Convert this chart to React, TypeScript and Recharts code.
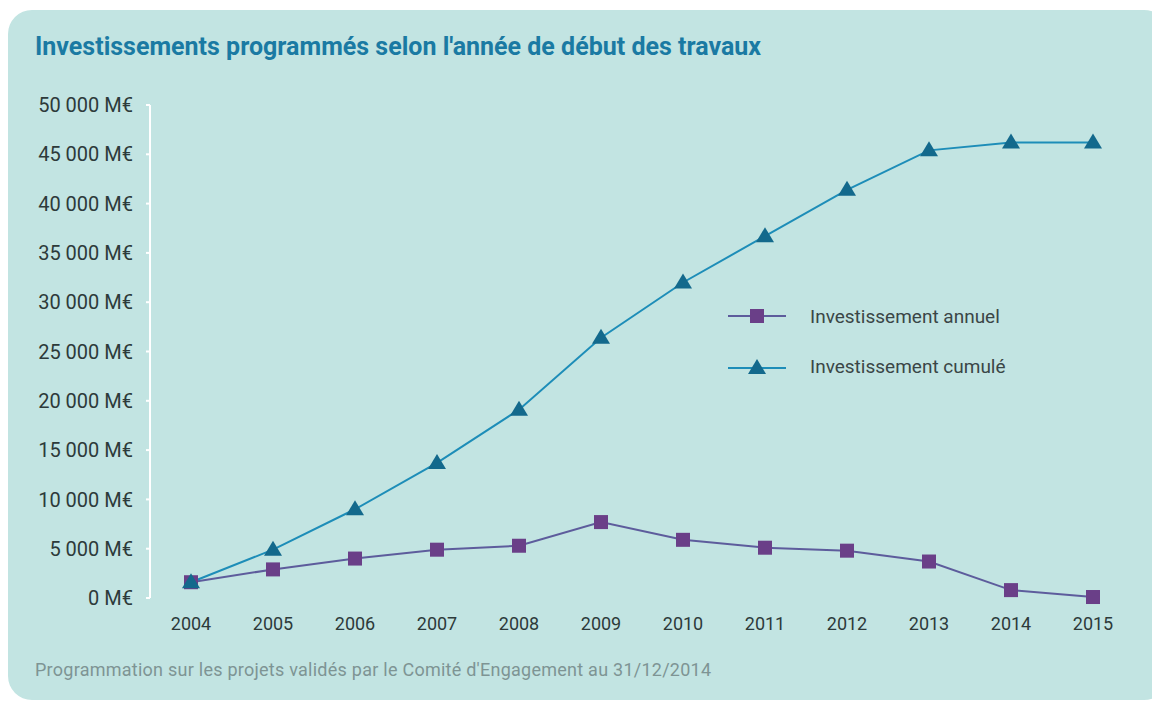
import { LineChart, Line, XAxis, YAxis } from "recharts";

// Années de début des travaux
const years = [2004, 2005, 2006, 2007, 2008, 2009, 2010, 2011, 2012, 2013, 2014, 2015];
// Montants (M€)
const annuel = [1600, 2900, 4000, 4900, 5300, 7700, 5900, 5100, 4800, 3700, 800, 100];
const cumule = [1600, 4900, 9000, 13700, 19100, 26400, 32000, 36700, 41400, 45400, 46200, 46200];
const yTicks = [0, 5000, 10000, 15000, 20000, 25000, 30000, 35000, 40000, 45000, 50000];
const bandEdges = [2003.5, 2004.5, 2005.5, 2006.5, 2007.5, 2008.5, 2009.5, 2010.5, 2011.5, 2012.5, 2013.5, 2014.5, 2015.5];

const data = years.map((y, i) => ({ year: y, annuel: annuel[i], cumule: cumule[i] }));

const FONT = "Roboto, 'Open Sans', sans-serif";
const PURPLE = "#6a3f88";
const PURPLE_LINE = "#5d5c9c";
const BLUE = "#13698c";
const BLUE_LINE = "#1d8db8";

const fmt = (v: number) => (v === 0 ? "0 M€" : `${Math.round(v / 1000)} 000 M€`);

const SquareDot = (props: any) => {
  const { cx, cy } = props;
  if (cx == null || cy == null) return <g />;
  return <rect x={cx - 7} y={cy - 7} width={14} height={14} fill={PURPLE} />;
};

const TriangleDot = (props: any) => {
  const { cx, cy } = props;
  if (cx == null || cy == null) return <g />;
  return <path d={`M${cx},${cy - 9} L${cx + 9},${cy + 6} L${cx - 9},${cy + 6} Z`} fill={BLUE} />;
};

const EmptyTick = () => <g />;

export default function App() {
  return (
    <div style={{ position: "absolute", left: 0, top: 0, width: 1152, height: 701, background: "#fff", overflow: "hidden", fontFamily: FONT }}>
      <div style={{ position: "absolute", left: 8, top: 10, width: 1160, height: 690, background: "#c2e4e2", borderRadius: 24 }} />
      <div style={{ position: "absolute", left: 35, top: 32, fontSize: 25, lineHeight: "30px", fontWeight: 700, color: "#1a7aa3", whiteSpace: "nowrap" }}>
        Investissements programmés selon l'année de début des travaux
      </div>

      <div style={{ position: "absolute", left: 0, top: 0 }}>
        <LineChart width={1152} height={701} data={data} margin={{ top: 105, right: 18, left: 0, bottom: 73 }}>
          <XAxis
            xAxisId="edges"
            dataKey="year"
            type="number"
            domain={[2003.5, 2015.5]}
            ticks={bandEdges}
            height={0}
            tick={EmptyTick}
            tickSize={7}
            tickLine={{ stroke: "#ffffff", strokeWidth: 2 }}
            axisLine={{ stroke: "#ffffff", strokeWidth: 2 }}
          />
          <XAxis
            xAxisId="labels"
            dataKey="year"
            type="number"
            domain={[2003.5, 2015.5]}
            ticks={years}
            height={30}
            axisLine={false}
            tickLine={false}
            tickMargin={13}
            tick={{ fill: "#2d3a3a", fontSize: 18, fontFamily: FONT }}
          />
          <YAxis
            width={150}
            domain={[0, 50000]}
            ticks={yTicks}
            tickFormatter={fmt}
            tickSize={4}
            tickMargin={13}
            tickLine={{ stroke: "#ffffff", strokeWidth: 2 }}
            axisLine={{ stroke: "#ffffff", strokeWidth: 2 }}
            tick={{ fill: "#2d3a3a", fontSize: 20, fontFamily: FONT }}
          />
          <Line
            xAxisId="labels"
            dataKey="annuel"
            stroke={PURPLE_LINE}
            strokeWidth={2}
            dot={<SquareDot />}
            activeDot={false}
            isAnimationActive={false}
          />
          <Line
            xAxisId="labels"
            dataKey="cumule"
            stroke={BLUE_LINE}
            strokeWidth={2}
            dot={<TriangleDot />}
            activeDot={false}
            isAnimationActive={false}
          />
        </LineChart>
      </div>

      {/* Légende */}
      <div style={{ position: "absolute", left: 728, top: 303, color: "#3a4646", fontSize: 19 }}>
        <div style={{ display: "flex", alignItems: "center", height: 26, marginBottom: 24 }}>
          <svg width={60} height={20} style={{ marginRight: 22 }}>
            <line x1={0} y1={10} x2={58} y2={10} stroke={PURPLE_LINE} strokeWidth={2} />
            <rect x={22} y={3} width={14} height={14} fill={PURPLE} />
          </svg>
          <span>Investissement annuel</span>
        </div>
        <div style={{ display: "flex", alignItems: "center", height: 26 }}>
          <svg width={60} height={20} style={{ marginRight: 22 }}>
            <line x1={0} y1={12} x2={58} y2={12} stroke={BLUE_LINE} strokeWidth={2} />
            <path d="M29,3 L38,18 L20,18 Z" fill={BLUE} />
          </svg>
          <span>Investissement cumulé</span>
        </div>
      </div>

      <div style={{ position: "absolute", left: 35, top: 659, fontSize: 18, lineHeight: "22px", letterSpacing: 0.25, color: "#7e9494", whiteSpace: "nowrap" }}>
        Programmation sur les projets validés par le Comité d'Engagement au 31/12/2014
      </div>
    </div>
  );
}
